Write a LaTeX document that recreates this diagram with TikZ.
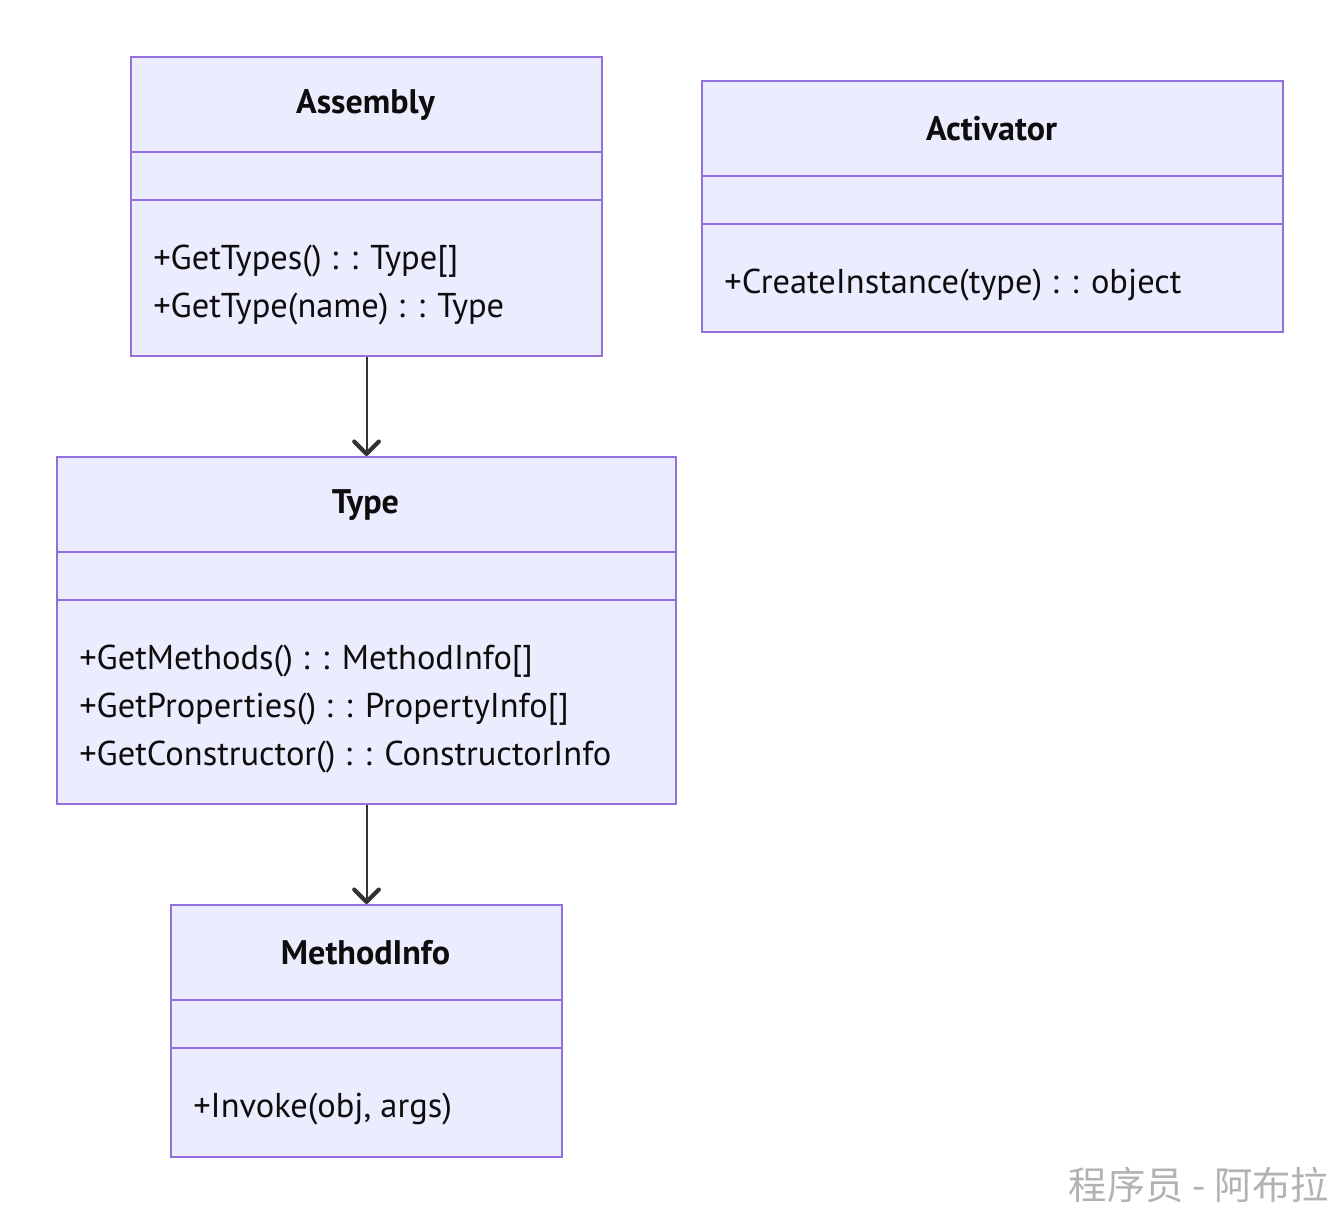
\documentclass[tikz,border=0pt]{standalone}
\usepackage{fontspec}
\setmainfont{PT Sans}
\newfontfamily\cjk{Noto Sans CJK SC}
\usepackage{tikz}
\usetikzlibrary{arrows.meta}
\definecolor{umlfill}{HTML}{ECECFF}
\definecolor{umlline}{HTML}{9370DB}
\definecolor{umlarrow}{HTML}{333333}
\tikzset{
  classframe/.style={draw=umlline,fill=umlfill,line width=1.2pt,inner sep=0pt},
  classline/.style={umlline,line width=1.2pt},
  classtitle/.style={font=\fontsize{19.4}{22}\selectfont\bfseries,text=black!95},
  member/.style={font=\fontsize{19.6}{22}\selectfont,text=black!95,anchor=west,inner sep=0pt},
  assoc/.style={-{Straight Barb[length=7pt,width=14pt,line width=2.4pt,round]},
                draw=umlarrow,line width=1.2pt},
  watermark/.style={font=\cjk\fontsize{21.8}{24}\selectfont,text=black!30}}
% #1 name, #2 left, #3 top, #4 width, #5 height, #6 title, #7 members
\newcommand{\classbox}[7]{%
  \node[classframe,anchor=north west,minimum width={#4*0.02cm},
        minimum height={#5*0.02cm}] (#1) at (#2,#3) {};
  \draw[classline] (#2,#3+96) -- (#2+#4,#3+96);
  \draw[classline] (#2,#3+144) -- (#2+#4,#3+144);
  \node[classtitle] (#1-title) at (#2+#4/2,#3+49) {#6};
  \foreach \m [count=\i] in {#7}{%
    \node[member] (#1-m\i) at (#2+23,{#3+157+48*\i}) {\m};}%
}

\begin{document}
\begin{tikzpicture}[x=0.02cm,y=-0.02cm]
\useasboundingbox (0,0) rectangle (1338,1212);

\classbox{asm}{130}{56}{471}{299}{Assembly}%
  {{+GetTypes() : : Type[]},{+GetType(name) : : Type}}
\classbox{act}{701}{80}{581}{251}{Activator}%
  {{+CreateInstance(type) : : object}}
\classbox{typ}{56}{456}{619}{347}{Type}%
  {{+GetMethods() : : MethodInfo[]},{+GetProperties() : : PropertyInfo[]},%
   {+GetConstructor() : : ConstructorInfo}}
\classbox{mi}{170}{904}{391}{252}{MethodInfo}%
  {{+Invoke(obj, args)}}

\draw[assoc] (asm.south) -- (typ.north);
\draw[assoc] (typ.south) -- (mi.north);

\node[watermark] (wm) at (1199,1185) {程序员 - 阿布拉};
\end{tikzpicture}
\end{document}
